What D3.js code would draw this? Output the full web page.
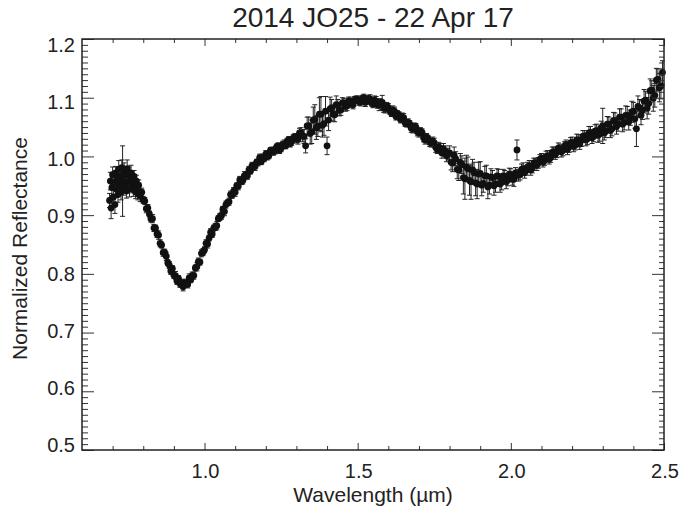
<!DOCTYPE html>
<html>
  <head>
    <meta charset="utf-8">
    <title>2014 JO25 - 22 Apr 17</title>
    <script src="https://cdn.jsdelivr.net/npm/d3@7"></script>

    <style>
      body { margin: 0; background: #fff; overflow: hidden; }
      svg { display: block; }

      text {
        font-family: 'Liberation Sans', Arial, Helvetica, sans-serif;
        fill: #222;
      }

      .frame {
        fill: none;
        stroke: #222;
        stroke-width: 1.5px;
      }

      .axis .tick line {
        stroke: #333;
        stroke-width: 1px;
      }

      .err {
        fill: none;
        stroke: #222;
        stroke-width: 1px;
      }

      .dot { fill: #111; }

      .title {
        font-size: 28px;
        text-anchor: middle;
      }

      .ticklabel { font-size: 20px; }
      .left { text-anchor: end; }
      .middle { text-anchor: middle; }

      .axis_title {
        font-size: 21px;
        text-anchor: middle;
      }
    </style>
  </head>

  <body>
    <script>

      // spectrum (wavelength in micron, normalized reflectance, 1-sigma)
      var wavelength = [
        // short-wavelength end, densely sampled
        0.690,0.6925,0.695,0.6975,0.700,0.7025,0.705,0.7075,0.710,0.7125,
        0.715,0.7175,0.720,0.7225,0.725,0.7275,0.730,0.7325,0.735,0.7375,
        0.740,0.7425,0.745,0.7475,0.750,0.7525,0.755,0.7575,0.760,0.7625,
        0.765,0.7675,0.770,0.7725,0.775,0.7775,0.780,0.7825,0.785,0.7875,
        0.790,
        // band I
        0.795,0.800,0.805,0.810,0.815,0.820,0.825,0.830,0.835,0.840,
        0.845,0.850,0.855,0.860,0.865,0.870,0.875,0.880,0.885,0.890,
        0.895,0.900,0.905,0.910,0.915,0.920,0.925,0.930,0.935,0.940,
        0.945,0.950,0.955,0.960,0.965,0.970,0.975,0.980,0.985,0.990,
        0.995,1.000,1.005,1.010,1.015,1.020,1.025,1.030,1.035,1.040,
        1.045,1.050,1.055,1.060,1.065,1.070,1.075,1.080,1.085,1.090,
        1.095,1.100,1.105,1.110,1.115,1.120,1.125,1.130,1.135,1.140,
        1.145,1.150,1.155,1.160,1.165,1.170,1.175,1.180,1.185,1.190,
        1.195,
        // long-wavelength part
        1.20,1.21,1.22,1.23,1.24,1.25,1.26,1.27,1.28,1.29,
        1.30,1.31,1.32,1.33,1.34,1.35,1.36,1.37,1.38,1.39,
        1.40,1.41,1.42,1.43,1.44,1.45,1.46,1.47,1.48,1.49,
        1.50,1.51,1.52,1.53,1.54,1.55,1.56,1.57,1.58,1.59,
        1.60,1.61,1.62,1.63,1.64,1.65,1.66,1.67,1.68,1.69,
        1.70,1.71,1.72,1.73,1.74,1.75,1.76,1.77,1.78,1.79,
        1.80,1.81,1.82,1.83,1.84,1.85,1.86,1.87,1.88,1.89,
        1.90,1.91,1.92,1.93,1.94,1.95,1.96,1.97,1.98,1.99,
        2.00,2.01,2.02,2.03,2.04,2.05,2.06,2.07,2.08,2.09,
        2.10,2.11,2.12,2.13,2.14,2.15,2.16,2.17,2.18,2.19,
        2.20,2.21,2.22,2.23,2.24,2.25,2.26,2.27,2.28,2.29,
        2.30,2.31,2.32,2.33,2.34,2.35,2.36,2.37,2.38,2.39,
        2.40,2.41,2.42,2.43,2.44,2.45,2.46,2.47,2.48,2.49,
        2.495,
        // half-step samples beyond 1.2 micron
        1.205,1.215,1.225,1.235,1.245,1.255,1.265,1.275,1.285,1.295,
        1.305,1.315,1.325,1.335,1.345,1.355,1.365,1.375,1.385,1.395,
        1.405,1.415,1.425,1.435,1.445,1.455,1.465,1.475,1.485,1.495,
        1.505,1.515,1.525,1.535,1.545,1.555,1.565,1.575,1.585,1.595,
        1.605,1.615,1.625,1.635,1.645,1.655,1.665,1.675,1.685,1.695,
        1.705,1.715,1.725,1.735,1.745,1.755,1.765,1.775,1.785,1.795,
        1.805,1.815,1.825,1.835,1.845,1.855,1.865,1.875,1.885,1.895,
        1.905,1.915,1.925,1.935,1.945,1.955,1.965,1.975,1.985,1.995,
        2.005,2.015,2.025,2.035,2.045,2.055,2.065,2.075,2.085,2.095,
        2.105,2.115,2.125,2.135,2.145,2.155,2.165,2.175,2.185,2.195,
        2.205,2.215,2.225,2.235,2.245,2.255,2.265,2.275,2.285,2.295,
        2.305,2.315,2.325,2.335,2.345,2.355,2.365,2.375,2.385,2.395,
        2.405,2.415,2.425,2.435,2.445,2.455,2.465,2.475,2.485
      ];

      var reflectance = [
        0.925,0.958,0.912,0.947,0.969,0.931,0.955,0.918,0.972,0.944,
        0.962,0.935,0.978,0.951,0.967,0.940,0.981,0.958,0.946,0.975,
        0.953,0.968,0.941,0.979,0.957,0.970,0.945,0.964,0.972,0.950,
        0.961,0.944,0.966,0.952,0.940,0.958,0.949,0.936,0.951,0.940,
        0.933,

        0.939,0.926,0.924,0.911,0.912,0.902,0.894,0.894,0.878,0.878,
        0.868,0.866,0.852,0.849,0.836,0.836,0.830,0.819,0.815,0.805,
        0.809,0.798,0.797,0.788,0.792,0.783,0.784,0.778,0.785,0.783,
        0.782,0.793,0.790,0.797,0.797,0.810,0.812,0.821,0.820,0.835,
        0.837,0.841,0.852,0.851,0.861,0.871,0.868,0.878,0.880,0.882,
        0.894,0.897,0.899,0.910,0.906,0.918,0.921,0.923,0.935,0.934,
        0.941,0.939,0.950,0.949,0.960,0.957,0.959,0.967,0.969,0.967,
        0.977,0.975,0.984,0.983,0.983,0.990,0.990,0.998,0.991,0.998,
        0.997,

        1.004,1.001,1.010,1.010,1.018,1.014,1.021,1.026,1.022,1.031,
        1.030,1.040,1.035,1.018,1.052,1.042,1.063,1.052,1.072,1.056,
        1.018,1.081,1.072,1.088,1.079,1.091,1.085,1.094,1.090,1.096,
        1.097,1.093,1.100,1.095,1.098,1.089,1.094,1.088,1.092,1.082,
        1.083,1.074,1.077,1.072,1.063,1.066,1.056,1.055,1.047,1.050,
        1.040,1.041,1.028,1.030,1.023,1.023,1.012,1.014,1.013,1.001,
        1.006,0.989,0.996,0.977,0.986,0.962,0.979,0.957,0.972,0.953,
        0.971,0.954,0.967,0.951,0.964,0.953,0.966,0.956,0.966,0.960,
        0.969,0.961,1.011,0.969,0.979,0.976,0.984,0.980,0.989,0.989,
        0.997,0.993,1.001,0.998,1.008,1.007,1.013,1.010,1.020,1.016,
        1.024,1.019,1.028,1.027,1.035,1.030,1.041,1.034,1.044,1.038,
        1.052,1.043,1.055,1.047,1.061,1.055,1.067,1.058,1.070,1.066,
        1.077,1.047,1.083,1.079,1.096,1.090,1.113,1.104,1.131,1.120,
        1.143,

        1.000,1.010,1.008,1.016,1.011,1.020,1.018,1.028,1.026,1.033,
        1.029,1.040,1.034,1.052,1.039,1.062,1.049,1.072,1.053,1.077,
        1.062,1.083,1.071,1.087,1.079,1.091,1.086,1.094,1.088,1.097,
        1.093,1.098,1.092,1.098,1.092,1.096,1.088,1.091,1.082,1.086,
        1.078,1.079,1.068,1.070,1.067,1.057,1.058,1.048,1.051,1.042,
        1.043,1.032,1.033,1.024,1.026,1.015,1.016,1.006,1.009,1.004,
        0.990,1.002,0.978,0.990,0.964,0.982,0.959,0.977,0.955,0.970,
        0.951,0.967,0.948,0.965,0.950,0.967,0.953,0.967,0.957,0.970,
        0.961,0.972,0.968,0.978,0.972,0.982,0.977,0.989,0.985,0.995,
        0.990,1.000,0.995,1.007,1.003,1.014,1.008,1.017,1.012,1.023,
        1.017,1.028,1.021,1.034,1.028,1.040,1.032,1.043,1.036,1.049,
        1.040,1.055,1.044,1.061,1.051,1.067,1.055,1.070,1.059,1.076,
        1.064,1.085,1.070,1.094,1.082,1.112,1.099,1.130,1.117
      ];

      var sigma = [
        .012,.015,.018,.014,.013,.016,.012,.015,.011,.014,
        .012,.013,.015,.012,.011,.014,.013,.060,.012,.014,
        .011,.013,.012,.015,.011,.012,.014,.011,.013,.012,
        .011,.012,.010,.011,.012,.010,.011,.010,.009,.011,
        .010,

        .007,.006,.006,.007,.006,.005,.006,.007,.006,.005,
        .006,.007,.006,.005,.006,.006,.007,.005,.006,.006,
        .005,.006,.007,.006,.005,.006,.006,.007,.006,.005,
        .006,.007,.005,.006,.006,.005,.007,.006,.005,.006,
        .006,.005,.006,.007,.005,.006,.006,.005,.006,.007,
        .005,.006,.006,.005,.007,.006,.005,.006,.006,.005,
        .006,.007,.005,.006,.006,.005,.006,.007,.005,.006,
        .006,.005,.006,.006,.007,.005,.006,.006,.005,.006,
        .006,

        .006,.005,.006,.006,.005,.006,.007,.005,.006,.006,
        .007,.008,.010,.012,.015,.020,.025,.018,.030,.020,
        .015,.020,.012,.015,.010,.009,.008,.007,.007,.006,
        .006,.007,.006,.006,.007,.006,.008,.010,.012,.008,
        .007,.006,.007,.006,.006,.007,.006,.006,.007,.006,
        .007,.006,.007,.006,.007,.008,.007,.008,.009,.010,
        .012,.015,.012,.018,.015,.035,.020,.030,.018,.025,
        .020,.015,.018,.015,.012,.014,.012,.013,.010,.010,
        .010,.012,.017,.009,.010,.008,.009,.008,.008,.009,
        .008,.008,.009,.008,.008,.009,.008,.009,.008,.009,
        .009,.008,.009,.010,.009,.010,.010,.009,.011,.012,
        .030,.011,.012,.012,.013,.012,.014,.013,.015,.013,
        .015,.030,.014,.016,.015,.018,.016,.020,.018,.022,
        .020,

        .006,.005,.006,.005,.006,.006,.005,.006,.007,.006,
        .008,.009,.012,.015,.018,.022,.020,.028,.020,.025,
        .018,.014,.012,.010,.009,.008,.008,.007,.007,.006,
        .006,.006,.007,.006,.006,.007,.006,.007,.007,.006,
        .006,.007,.006,.006,.007,.006,.006,.007,.006,.007,
        .006,.007,.006,.007,.007,.008,.008,.009,.009,.010,
        .013,.014,.016,.015,.028,.020,.025,.018,.022,.020,
        .018,.016,.020,.014,.016,.012,.014,.011,.012,.010,
        .010,.009,.010,.009,.009,.008,.009,.008,.009,.008,
        .008,.009,.008,.009,.008,.009,.009,.008,.009,.009,
        .009,.010,.009,.010,.010,.011,.010,.011,.012,.011,
        .012,.013,.012,.014,.013,.014,.013,.016,.014,.018,
        .016,.018,.016,.020,.018,.020,.022,.020,.024
      ];

      var xTickValues = [1.0, 1.5, 2.0, 2.5];
      var xTickLabels = ["1.0", "1.5", "2.0", "2.5"];
      var yTickValues = [0.5, 0.6, 0.7, 0.8, 0.9, 1.0, 1.1, 1.2];
      var yTickLabels = ["0.5", "0.6", "0.7", "0.8", "0.9", "1.0", "1.1", "1.2"];

      // layout
      var outerWidth = 689;
      var outerHeight = 512;
      var margin = { left: 82, top: 39, right: 25, bottom: 62 };
      var innerWidth  = outerWidth  - margin.left - margin.right;
      var innerHeight = outerHeight - margin.top  - margin.bottom;

      var svg = d3.select("body").append("svg")
          .attr("width", outerWidth)
          .attr("height", outerHeight);

      svg.append("rect")
        .attr("width", outerWidth)
        .attr("height", outerHeight)
        .attr("fill", "#fff");

      var g = svg.append("g")
        .attr("transform", "translate(" + margin.left + "," + margin.top + ")");

      var xScale = d3.scaleLinear().domain([0.6, 2.5]).range([0, innerWidth]);
      var yScale = d3.scaleLinear().domain([0.5, 1.2]).range([innerHeight, 0]);
      // IDL put the y labels on a slightly tighter spacing than the ticks
      var yLabelScale = d3.scaleLinear().domain([0.5, 1.2]).range([innerHeight - 5, 6]);

      var points = wavelength.map(function(w, i) {
        return { w: w, r: reflectance[i], s: sigma[i] };
      });

      // error bars with little caps
      g.selectAll(".err")
        .data(points)
        .enter()
        .append("path")
        .attr("class", "err")
        .attr("d", function(d) {
          var x = xScale(d.w);
          var yt = yScale(d.r + d.s);
          var yb = yScale(d.r - d.s);
          return "M" + (x - 2.5) + "," + yt + "H" + (x + 2.5) +
                 "M" + x + "," + yt + "V" + yb +
                 "M" + (x - 2.5) + "," + yb + "H" + (x + 2.5);
        });

      g.selectAll(".dot")
        .data(points)
        .enter()
        .append("circle")
        .attr("class", "dot")
        .attr("cx", function(d) { return xScale(d.w); })
        .attr("cy", function(d) { return yScale(d.r); })
        .attr("r", 3.4);

      // ticks on all four sides, pointing inwards
      var xMinor = d3.range(7, 25).map(function(d) { return d / 10; })
        .filter(function(d) { return xTickValues.indexOf(d) < 0; });
      var yMinor = d3.range(51, 120).filter(function(d) { return d % 10 !== 0; })
        .map(function(d) { return d / 100; });

      function ticks(axis, transform) {
        var a = g.append("g")
          .attr("class", "axis")
          .attr("transform", transform)
          .call(axis);
        a.select(".domain").remove();
        a.selectAll("text").remove();
      }

      ticks(d3.axisBottom(xScale).tickValues(xTickValues).tickSize(-7).tickFormat(""), "translate(0," + innerHeight + ")");
      ticks(d3.axisBottom(xScale).tickValues(xMinor).tickSize(-4).tickFormat(""), "translate(0," + innerHeight + ")");
      ticks(d3.axisTop(xScale).tickValues(xTickValues).tickSize(-7).tickFormat(""), "translate(0,0)");
      ticks(d3.axisTop(xScale).tickValues(xMinor).tickSize(-4).tickFormat(""), "translate(0,0)");
      ticks(d3.axisLeft(yScale).tickValues(yTickValues).tickSize(-12).tickFormat(""), "translate(0,0)");
      ticks(d3.axisLeft(yScale).tickValues(yMinor).tickSize(-6).tickFormat(""), "translate(0,0)");
      ticks(d3.axisRight(yScale).tickValues(yTickValues).tickSize(-12).tickFormat(""), "translate(" + innerWidth + ",0)");
      ticks(d3.axisRight(yScale).tickValues(yMinor).tickSize(-5).tickFormat(""), "translate(" + innerWidth + ",0)");

      g.append("rect")
        .attr("class", "frame")
        .attr("width", innerWidth)
        .attr("height", innerHeight);

      // tick labels
      g.selectAll(".xlabel")
        .data(xTickValues)
        .enter()
        .append("text")
        .attr("class", "ticklabel middle")
        .attr("x", function(d) { return xScale(d) + 1; })
        .attr("y", innerHeight + 28)
        .text(function(d, i) { return xTickLabels[i]; });

      g.selectAll(".ylabel")
        .data(yTickValues)
        .enter()
        .append("text")
        .attr("class", "ticklabel left")
        .attr("x", -7)
        .attr("y", function(d) { return yLabelScale(d); })
        .attr("dy", "0.35em")
        .text(function(d, i) { return yTickLabels[i]; });

      // titles
      svg.append("text")
        .attr("class", "title")
        .attr("x", margin.left + innerWidth / 2)
        .attr("y", 27)
        .text("2014 JO25 - 22 Apr 17");

      svg.append("text")
        .attr("class", "axis_title")
        .attr("x", margin.left + innerWidth / 2)
        .attr("y", 502)
        .text("Wavelength (\u00b5m)");

      svg.append("text")
        .attr("class", "axis_title")
        .attr("transform", "translate(27," + (margin.top + innerHeight / 2 + 4) + ") rotate(-90)")
        .text("Normalized Reflectance");

    </script>
  </body>
</html>
